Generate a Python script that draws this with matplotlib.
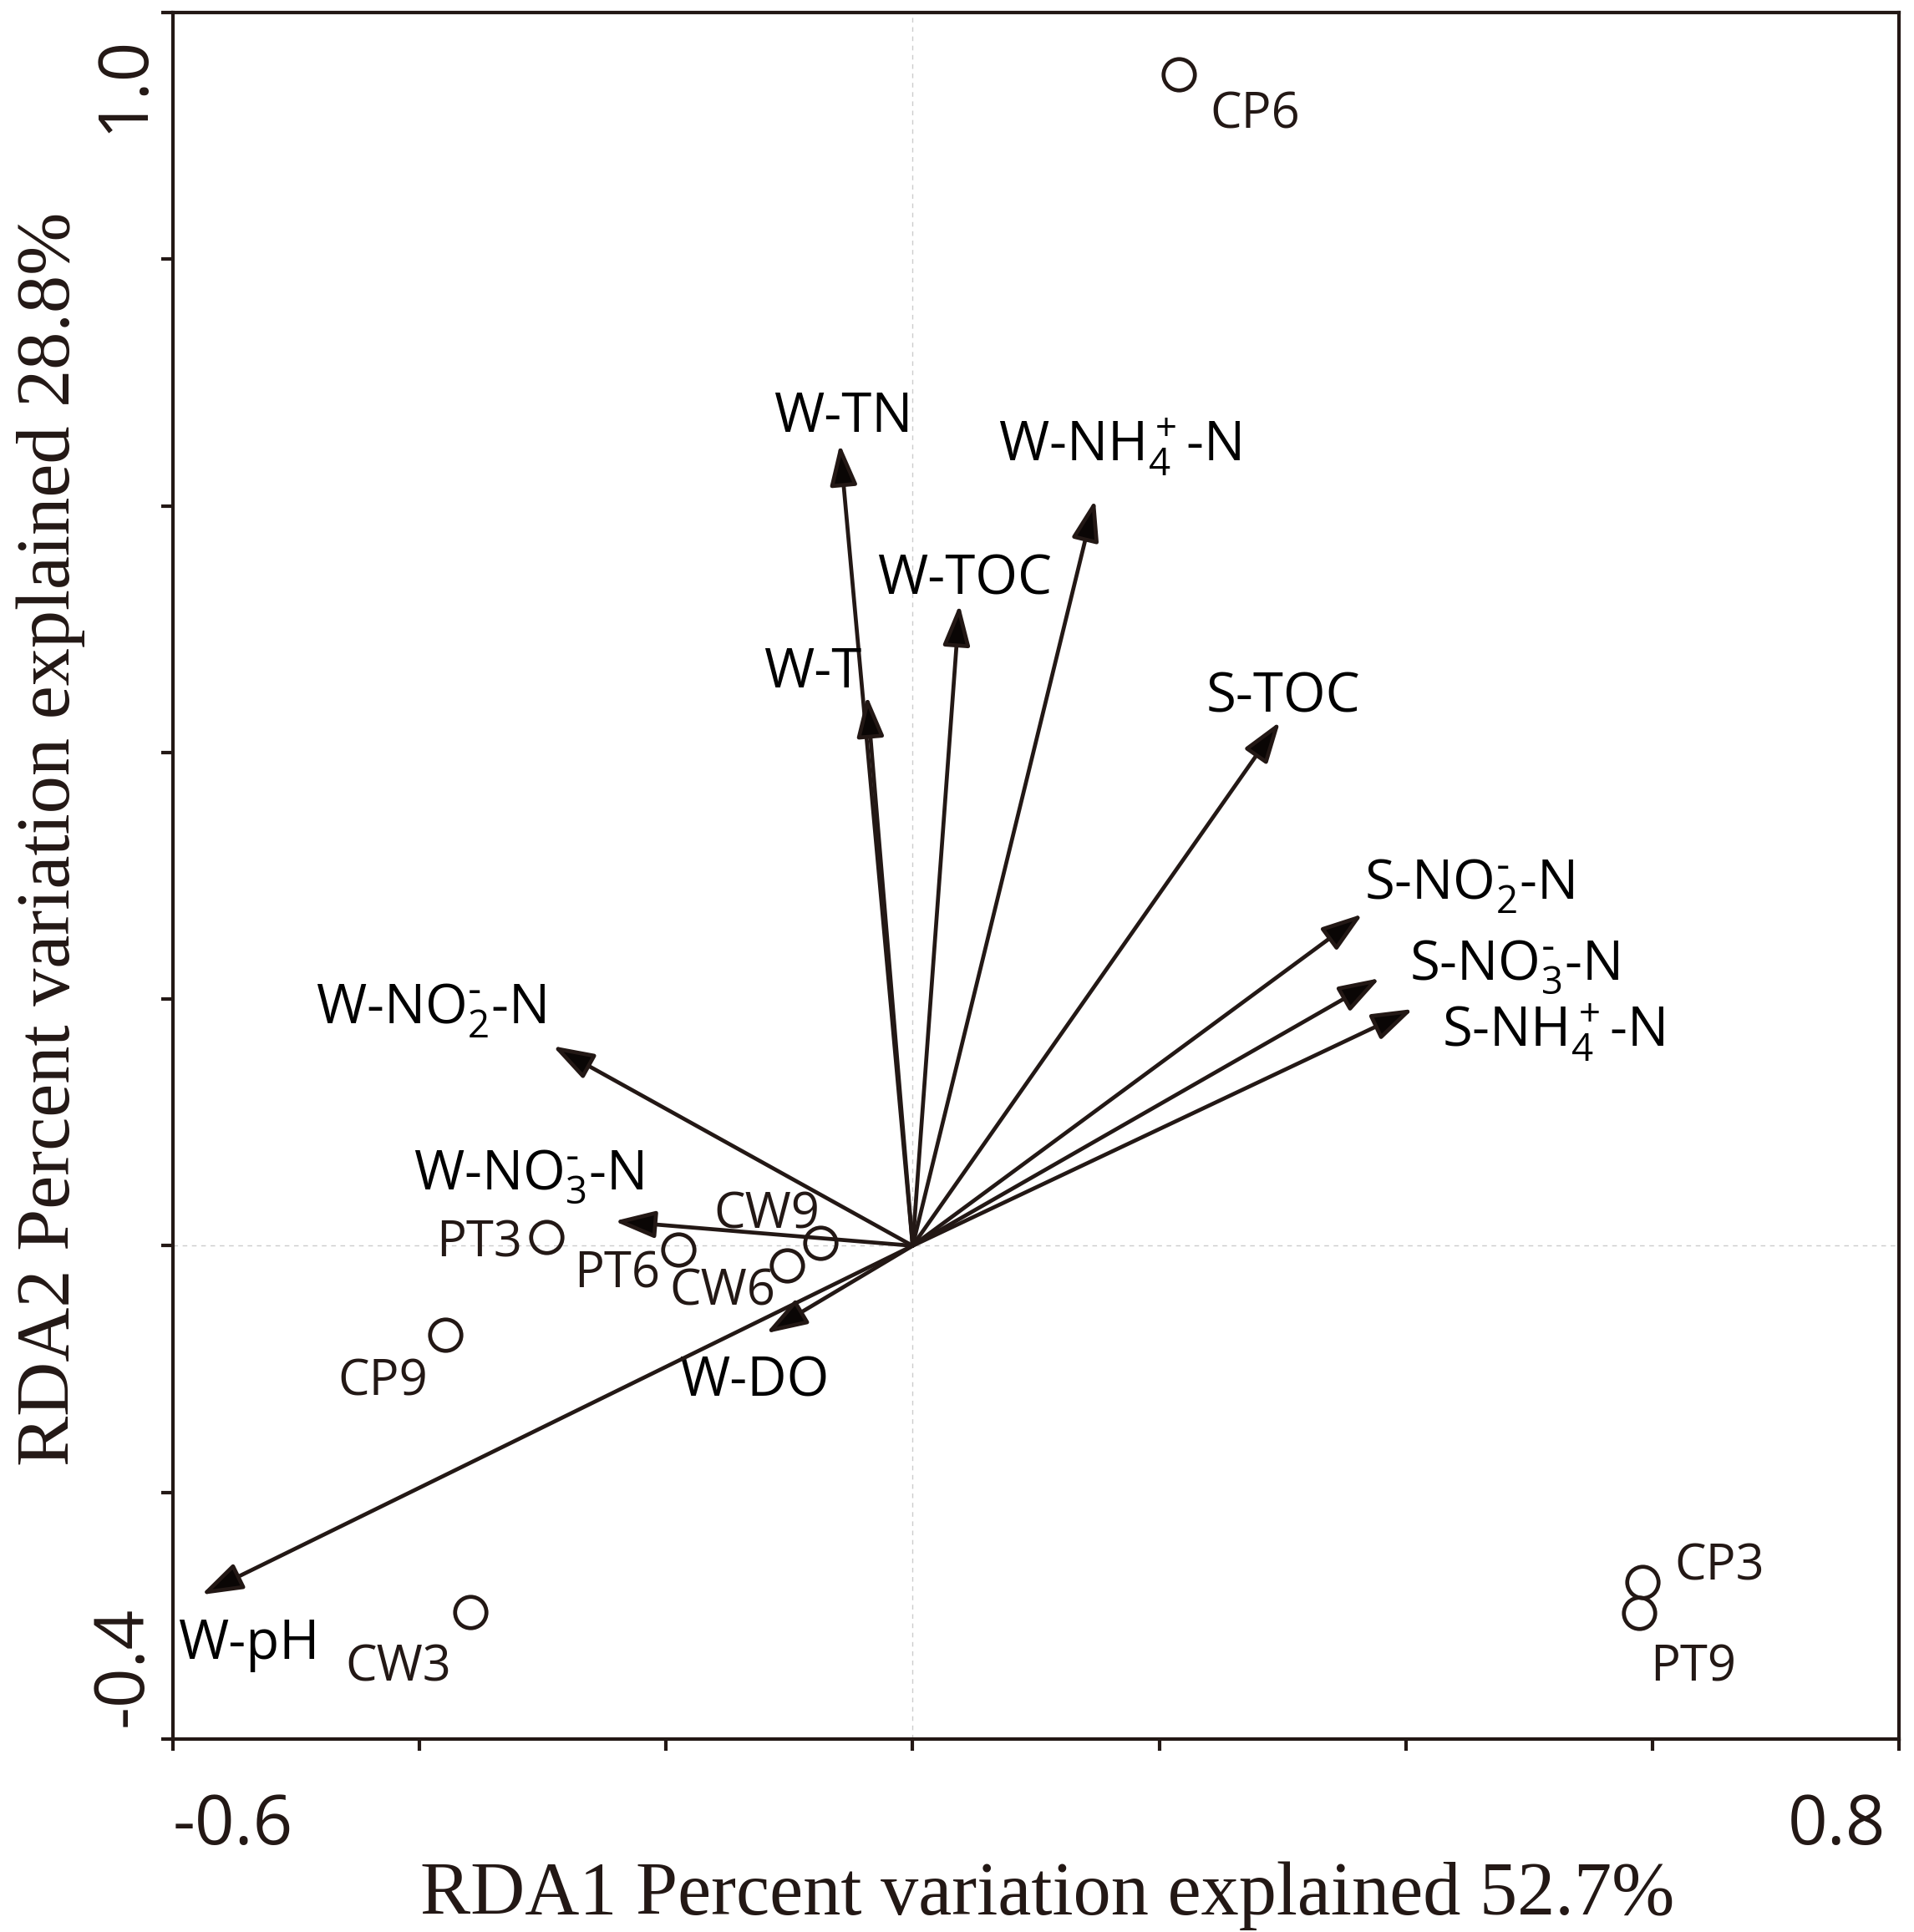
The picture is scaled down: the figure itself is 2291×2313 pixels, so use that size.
import matplotlib
matplotlib.use("Agg")
import matplotlib.pyplot as plt

plt.rcParams['font.family'] = ['Open Sans', 'DejaVu Sans']
plt.rcParams['mathtext.default'] = 'regular'

INK = '#231815'

# environmental vectors (RDA1, RDA2)
env_labels = ['W-TN', r'W-N$H_4^+$-N', 'W-TOC', 'W-T', 'S-TOC',
              r'S-N$O_2^{\text{-}}$-N', r'S-N$O_3^{\text{-}}$-N', r'S-N$H_4^+$-N',
              r'W-N$O_2^{\text{-}}$-N', r'W-N$O_3^{\text{-}}$-N', 'W-DO', 'W-pH']
env_rda1 = [-0.059, 0.148, 0.038, -0.037, 0.298, 0.365, 0.379, 0.406,
            -0.292, -0.242, -0.119, -0.577]
env_rda2 = [0.650, 0.605, 0.520, 0.446, 0.425, 0.269, 0.217, 0.192,
            0.162, 0.020, -0.071, -0.283]

# sampling sites
site_labels = ['CP3', 'CP6', 'CP9', 'CW3', 'CW6', 'CW9', 'PT3', 'PT6', 'PT9']
site_rda1 = [0.592, 0.216, -0.379, -0.359, -0.102, -0.075, -0.297, -0.190, 0.589]
site_rda2 = [-0.273, 0.950, -0.072, -0.297, -0.016, 0.002, 0.007, -0.003, -0.298]

xticks = [-0.6, -0.4, -0.2, 0.0, 0.2, 0.4, 0.6, 0.8]
yticks = [-0.4, -0.2, 0.0, 0.2, 0.4, 0.6, 0.8, 1.0]

# label anchors (left / baseline unless noted)
env_text_pos = [(-0.113, 0.660), (0.0695, 0.636), (-0.029, 0.528), (-0.121, 0.453),
                (0.238, 0.433), (0.366, 0.281), (0.403, 0.216), (0.429, 0.161),
                (-0.484, 0.180), (-0.405, 0.0457), (-0.189, -0.122), (-0.596, -0.335)]
site_text_pos = {
    'CP3': (0.618, -0.271, 'left'),
    'CP6': (0.241, 0.9065, 'left'),
    'CP9': (-0.393, -0.121, 'right'),
    'CW3': (-0.374, -0.353, 'right'),
    'CW6': (-0.197, -0.048, 'left'),
    'CW9': (-0.161, 0.0145, 'left'),
    'PT3': (-0.317, -0.009, 'right'),
    'PT6': (-0.205, -0.034, 'right'),
    'PT9': (0.598, -0.353, 'left'),
}

fig = plt.figure(figsize=(22.91, 23.13), dpi=100)
ax = fig.add_axes([0.09035, 0.09987, 0.90179, 0.89364])
ax.set_xlim(xticks[0], xticks[-1])
ax.set_ylim(yticks[0], yticks[-1])

ax.axvline(0, color='#cccccc', lw=1.0, ls=(0, (4, 4)), zorder=0)
ax.axhline(0, color='#cccccc', lw=1.0, ls=(0, (4, 4)), zorder=0)

# arrows
for lab, x, y, (tx, ty) in zip(env_labels, env_rda1, env_rda2, env_text_pos):
    ax.annotate('', xy=(x, y), xytext=(0, 0),
                arrowprops=dict(arrowstyle='-|>,head_length=3.0,head_width=1.0',
                                mutation_scale=10, lw=3.4,
                                ec=INK, fc='#0a0605',
                                shrinkA=0, shrinkB=0))
    ax.text(tx, ty, lab, fontsize=47, color='black', ha='left', va='baseline')

# sites
ax.plot(site_rda1, site_rda2, 'o', ms=27, mfc='none', mec=INK, mew=3.4, zorder=5)
for lab in site_labels:
    tx, ty, ha = site_text_pos[lab]
    ax.text(tx, ty, lab, fontsize=43, color=INK, ha=ha, va='baseline')

# spines and ticks
for sp in ax.spines.values():
    sp.set_linewidth(3.0)
    sp.set_color(INK)
ax.set_xticks(xticks)
ax.set_yticks(yticks)
ax.set_xticklabels([])
ax.set_yticklabels([])
ax.tick_params(direction='out', length=10, width=3.0, color=INK)

# end tick labels only
tick_kw = dict(fontsize=60, color=INK, textcoords='offset points')
ax.annotate('-0.6', xy=(xticks[0], 0), xycoords=('data', 'axes fraction'),
            xytext=(0, -90.7), ha='left', va='baseline', **tick_kw)
ax.annotate('0.8', xy=(xticks[-1], 0), xycoords=('data', 'axes fraction'),
            xytext=(-11.5, -90.7), ha='right', va='baseline', **tick_kw)
ax.annotate('1.0', xy=(0, yticks[-1]), xycoords=('axes fraction', 'data'),
            xytext=(-26.6, -19.4), ha='right', va='baseline',
            rotation=90, rotation_mode='anchor', **tick_kw)
ax.annotate('-0.4', xy=(0, yticks[0]), xycoords=('axes fraction', 'data'),
            xytext=(-26.6, 10.8), ha='left', va='baseline',
            rotation=90, rotation_mode='anchor', **tick_kw)

fig.text(0.5474, 0.00908, 'RDA1 Percent variation explained 52.7%',
         family='Liberation Serif', fontsize=65, color=INK,
         ha='center', va='baseline')
fig.text(0.03623, 0.5659, 'RDA2 Percent variation explained 28.8%',
         family='Liberation Serif', fontsize=65, color=INK,
         ha='center', va='baseline', rotation=90, rotation_mode='anchor')

fig.savefig('out.png', dpi=100)
